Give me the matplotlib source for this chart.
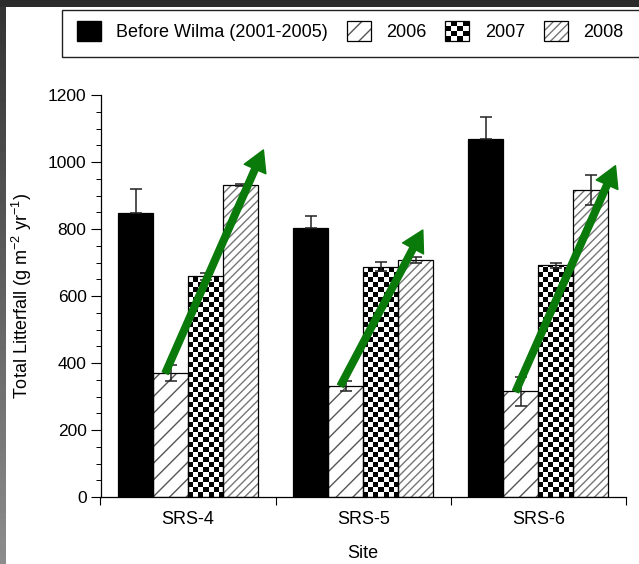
import numpy as np
import matplotlib
matplotlib.use("Agg")
import matplotlib.pyplot as plt
from matplotlib.patches import Rectangle
from matplotlib.legend_handler import HandlerBase, HandlerTuple

plt.rcParams["font.family"] = ["Liberation Sans", "DejaVu Sans"]
plt.rcParams["mathtext.default"] = "regular"
plt.rcParams["hatch.linewidth"] = 1.0

sites = ["SRS-4", "SRS-5", "SRS-6"]
periods = ["Before Wilma (2001-2005)", "2006", "2007", "2008"]

# total litterfall (g m-2 yr-1) and error
before_wilma = [847, 804, 1070]
before_wilma_err = [73, 34, 63]
litter_2006 = [370, 332, 315]
litter_2006_err = [23, 15, 43]
litter_2007 = [659, 688, 692]
litter_2007_err = [10, 14, 8]
litter_2008 = [931, 707, 916]
litter_2008_err = [4, 8, 44]

# recovery arrows: tip offset from the 2008 bar and tip height
arrow_tip_dx = [0.13, 0.04, 0.14]
arrow_tip_y = [1036, 797, 989]

W, H = 639, 564
fig = plt.figure(figsize=(W / 100, H / 100), dpi=100)
ax = fig.add_axes([100.5 / W, 1 - 497 / H, 525.5 / W, 402 / H])

x = np.arange(len(sites))
width = 0.2
offsets = [-0.3, -0.1, 0.1, 0.3]
values = [before_wilma, litter_2006, litter_2007, litter_2008]
errors = [before_wilma_err, litter_2006_err, litter_2007_err, litter_2008_err]
fills = [
    dict(color="black"),
    dict(facecolor="white", edgecolor="#555555", hatch="//", linewidth=0),
    dict(facecolor="white", linewidth=0),
    dict(facecolor="white", edgecolor="#777777", hatch="////", linewidth=0),
]

# size of one checker square, in data units (about 5 px)
ax_w_px = 525.5
ax_h_px = 402
cell_px = 5.0
cell_w = cell_px * 3.0 / ax_w_px
cell_h = cell_px * 1200 / ax_h_px

bars = []
for off, vals, style in zip(offsets, values, fills):
    bars.append(ax.bar(x + off, vals, width, zorder=1, **style))

# checkerboard fill for 2007
for bar in bars[2]:
    x0, w, h = bar.get_x(), bar.get_width(), bar.get_height()
    ncol = int(round(w / cell_w))
    nrow = int(np.ceil(h / cell_h))
    grid = np.add.outer(np.arange(nrow), np.arange(ncol)) % 2
    im = ax.imshow(grid, cmap="gray", extent=(x0, x0 + w, 0, nrow * cell_h),
                   origin="lower", interpolation="nearest", aspect="auto", zorder=1.5)
    im.set_clip_path(bar)

# outlines and error bars (black bars only show the upper whisker)
for k, (off, vals, errs) in enumerate(zip(offsets, values, errors)):
    ax.bar(x + off, vals, width, fill=False, edgecolor="black", linewidth=0.9, zorder=2)
    yerr = [np.zeros(len(errs)), errs] if k == 0 else errs
    ax.errorbar(x + off, vals, yerr=yerr, fmt="none", ecolor="#222222",
                elinewidth=1.1, capsize=4.5, capthick=1.1, zorder=3)

ax.set_xlim(-0.5, 2.5)
ax.set_ylim(0, 1200)
ax.set_aspect("auto")

# green arrows from 2006 up past 2008
for i in range(len(sites)):
    start = (x[i] + offsets[1] - 0.03, litter_2006[i])
    tip = (x[i] + offsets[3] + arrow_tip_dx[i], arrow_tip_y[i])
    ax.annotate("", xy=tip, xytext=start,
                arrowprops=dict(color="#0a7a0a", width=4.8, headwidth=17,
                                headlength=15, shrink=0), zorder=5)

for side in ["top", "right"]:
    ax.spines[side].set_visible(False)
for side in ["left", "bottom"]:
    ax.spines[side].set_linewidth(0.9)

ax.set_yticks(np.arange(0, 1201, 200))
ax.set_yticks(np.arange(0, 1201, 50), minor=True)
ax.tick_params(axis="y", which="major", length=7, width=0.8, pad=3, labelsize=12.5)
ax.tick_params(axis="y", which="minor", length=3.6, width=0.7)

ax.set_xticks([-0.5, 0.5, 1.5, 2.5])
ax.set_xticklabels([])
ax.set_xticks(x, minor=True)
ax.set_xticklabels(sites, minor=True)
ax.tick_params(axis="x", which="major", length=5.8, width=0.8)
ax.tick_params(axis="x", which="minor", length=0, pad=10, labelsize=13)

ax.set_xlabel("Site", fontsize=13, labelpad=12)
ax.set_ylabel("Total Litterfall (g m$^{-2}$ yr$^{-1}$)", fontsize=13)
ax.yaxis.set_label_coords(-0.1265, 0.5)


class CheckerHandler(HandlerBase):
    def create_artists(self, legend, orig_handle, xdescent, ydescent,
                       width, height, fontsize, trans):
        n = 4
        cw, ch = width / n, height / n
        arts = [Rectangle((-xdescent, -ydescent), width, height,
                          facecolor="white", edgecolor="none", transform=trans)]
        for i in range(n):
            for j in range(n):
                if (i + j) % 2 == 0:
                    arts.append(Rectangle((-xdescent + i * cw, -ydescent + j * ch), cw, ch,
                                          facecolor="black", edgecolor="none",
                                          transform=trans))
        arts.append(Rectangle((-xdescent, -ydescent), width, height, fill=False,
                              edgecolor="black", linewidth=0.9, transform=trans))
        return arts


outline = Rectangle((0, 0), 1, 1, fill=False, edgecolor="black", linewidth=0.9)
handles = [
    Rectangle((0, 0), 1, 1, color="black"),
    (Rectangle((0, 0), 1, 1, **fills[1]), outline),
    bars[2][0],
    (Rectangle((0, 0), 1, 1, **fills[3]), outline),
]
fig.legend(handles, periods, loc="upper left",
           bbox_to_anchor=(76.7 / W, 1 - 20.7 / H), ncol=4, frameon=False,
           fontsize=13, borderpad=0, borderaxespad=0,
           handlelength=1.33, handleheight=1.33, handletextpad=0.85,
           columnspacing=1.05,
           handler_map={bars[2][0]: CheckerHandler(), tuple: HandlerTuple(ndivide=1)})
fig.add_artist(Rectangle((61.7 / W, 1 - 56.7 / H), 1.0, 46.7 / H,
                         transform=fig.transFigure, fill=False,
                         edgecolor="#222222", linewidth=1.0))

# dark screen border along the top and left edges
fig.add_artist(Rectangle((0, 1 - 7 / H), 1, 7 / H, transform=fig.transFigure,
                         facecolor="#2b2b2b", edgecolor="none"))
strip = fig.add_axes([0, 0, 6 / W, 1])
strip.imshow(np.linspace(0.55, 0.2, 100)[:, None], cmap="gray", vmin=0, vmax=1,
             aspect="auto", origin="lower")
strip.set_axis_off()

fig.savefig("out.png", dpi=100)
